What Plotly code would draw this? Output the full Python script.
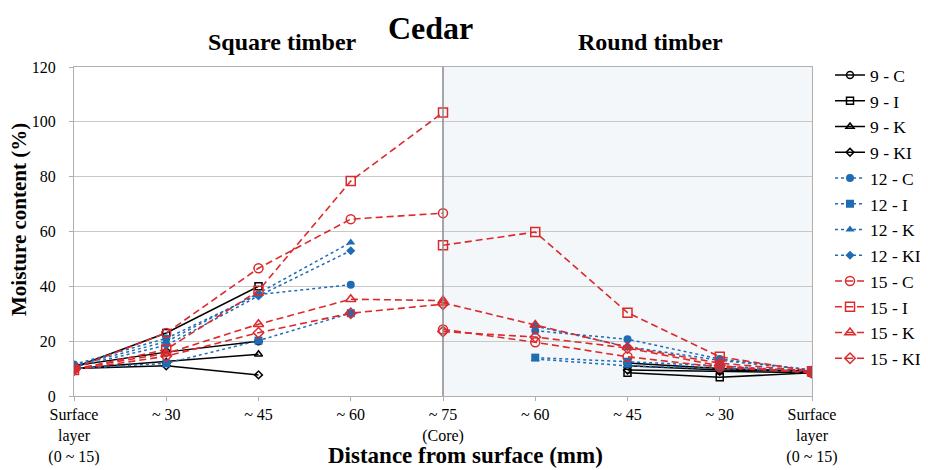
import plotly.graph_objects as go

tick_labels = ["Surface<br>layer<br>(0 ~ 15)", "~ 30", "~ 45", "~ 60", "~ 75<br>(Core)",
               "~ 60", "~ 45", "~ 30", "Surface<br>layer<br>(0 ~ 15)"]

# Square timber (left half, positions 0..)
sq_9_C = [11.0, 16.0, 20.0]
sq_9_I = [10.5, 23.0, 40.0]
sq_9_K = [10.0, 12.5, 15.2]
sq_9_KI = [10.0, 11.0, 7.7]
sq_12_C = [11.5, 21.0, 37.0, 40.6]
sq_12_I = [10.0, 11.9, 20.2, 30.2]
sq_12_K = [11.0, 19.8, 37.5, 56.0]
sq_12_KI = [10.5, 18.5, 36.5, 53.0]
sq_15_C = [10.0, 23.0, 46.6, 64.5, 66.7]
sq_15_I = [9.5, 17.0, 38.4, 78.4, 103.4]
sq_15_K = [10.0, 15.5, 26.2, 35.3, 34.8]
sq_15_KI = [9.5, 14.5, 23.1, 30.2, 33.5]

# Round timber (right half, ending at surface position 8)
rd_9_C = [12.0, 10.0, 9.0]
rd_9_I = [8.5, 6.8, 8.5]
rd_9_K = [11.0, 9.5, 9.0]
rd_9_KI = [9.5, 9.0, 8.5]
rd_12_C = [23.8, 20.7, 13.5, 9.5]
rd_12_I = [14.0, 12.5, 11.0, 9.0]
rd_12_K = [13.5, 11.0, 10.0, 9.0]
rd_12_KI = [25.5, 18.0, 13.0, 9.5]
rd_15_C = [24.3, 19.6, 14.3, 10.5, 8.5]
rd_15_I = [55.0, 59.8, 30.4, 14.3, 9.0]
rd_15_K = [34.0, 25.9, 17.8, 12.0, 9.0]
rd_15_KI = [23.5, 21.5, 17.5, 11.0, 8.5]

series = [
    ("9 - C", sq_9_C, rd_9_C, "9"), ("9 - I", sq_9_I, rd_9_I, "9"),
    ("9 - K", sq_9_K, rd_9_K, "9"), ("9 - KI", sq_9_KI, rd_9_KI, "9"),
    ("12 - C", sq_12_C, rd_12_C, "12"), ("12 - I", sq_12_I, rd_12_I, "12"),
    ("12 - K", sq_12_K, rd_12_K, "12"), ("12 - KI", sq_12_KI, rd_12_KI, "12"),
    ("15 - C", sq_15_C, rd_15_C, "15"), ("15 - I", sq_15_I, rd_15_I, "15"),
    ("15 - K", sq_15_K, rd_15_K, "15"), ("15 - KI", sq_15_KI, rd_15_KI, "15"),
]
sym = {"C": "circle", "I": "square", "K": "triangle-up", "KI": "diamond"}
style = {
    "9": dict(color="black", dash="solid", open=True, size=7, lw=1.5),
    "12": dict(color="#1f6cb5", dash="dot", open=False, size=8, lw=1.5),
    "15": dict(color="#dc2a2c", dash="7px,4px", open=True, size=9, lw=1.6),
}

fig = go.Figure()
fig.add_shape(type="rect", x0=4, x1=8, y0=0, y1=120, xref="x", yref="y",
              fillcolor="#f3f7f9", line_width=0, layer="below")

for name, sq, rd, grp in series:
    st = style[grp]
    kind = name.split(" - ")[1]
    s = sym[kind] + ("-open" if st["open"] else "")
    msize = st["size"] - (1 if kind == "KI" else 0)
    marker = dict(symbol=s, size=msize, color=st["color"],
                  line=dict(color=st["color"], width=1.5 if st["open"] else 0))
    line = dict(color=st["color"], dash=st["dash"], width=st["lw"])
    xs = list(range(len(sq)))
    fig.add_trace(go.Scatter(x=xs, y=sq, mode="lines+markers", name=name, legendgroup=name,
                             marker=marker, line=line))
    xr = list(range(9 - len(rd), 9))
    fig.add_trace(go.Scatter(x=xr, y=rd, mode="lines+markers", name=name, legendgroup=name,
                             showlegend=False, marker=marker, line=line))

fig.add_shape(type="line", x0=4, x1=4, y0=0, y1=120, xref="x", yref="y",
              line=dict(color="#8a8a8a", width=1.5))

serif = "Liberation Serif"
fig.update_layout(
    width=920, height=462,
    margin=dict(l=66, r=116, t=59, b=74, autoexpand=False),
    paper_bgcolor="white", plot_bgcolor="white",
    font=dict(family=serif, color="black", size=16),
    showlegend=True,
    legend=dict(x=1.0244, y=1.030, xanchor="left", yanchor="top", font=dict(size=17.5, family=serif),
                tracegroupgap=0, bgcolor="rgba(0,0,0,0)", itemwidth=30, maxheight=420),
    xaxis=dict(range=[0, 8], tickvals=list(range(9)), ticktext=tick_labels, automargin=False,
               showgrid=False, zeroline=False, showline=True, linecolor="#b0b0b0", mirror=True,
               ticks="outside", ticklen=4, tickcolor="#b0b0b0", tickfont=dict(size=16)),
    yaxis=dict(range=[0, 120], dtick=20, showgrid=True, gridcolor="#c8c8c8", gridwidth=1,
               automargin=False, ticklabelstandoff=10,
               zeroline=False, showline=True, linecolor="#b0b0b0", mirror=True,
               ticks="outside", ticklen=4, tickcolor="#b0b0b0", tickfont=dict(size=16)),
    annotations=[
        dict(text="<b>Cedar</b>", x=0.4824, y=1.177, xref="paper", yref="paper", xanchor="center",
             showarrow=False, font=dict(size=32), yanchor="top", borderpad=0),
        dict(text="<b>Square timber</b>", x=0.2825, y=1.076, xref="paper", yref="paper",
             xanchor="center", showarrow=False, font=dict(size=24), yanchor="middle"),
        dict(text="<b>Round timber</b>", x=0.781, y=1.076, xref="paper", yref="paper",
             xanchor="center", showarrow=False, font=dict(size=24), yanchor="middle"),
        dict(text="<b>Distance from surface (mm)</b>", x=0.530, y=-0.182, xref="paper", yref="paper",
             xanchor="center", showarrow=False, font=dict(size=23), yanchor="middle"),
        dict(text="<b>Moisture content (%)</b>", x=-0.0745, y=0.535, xref="paper", yref="paper",
             showarrow=False, font=dict(size=21), textangle=-90, xanchor="center", yanchor="middle"),
    ],
)
fig.write_html("out.html")
